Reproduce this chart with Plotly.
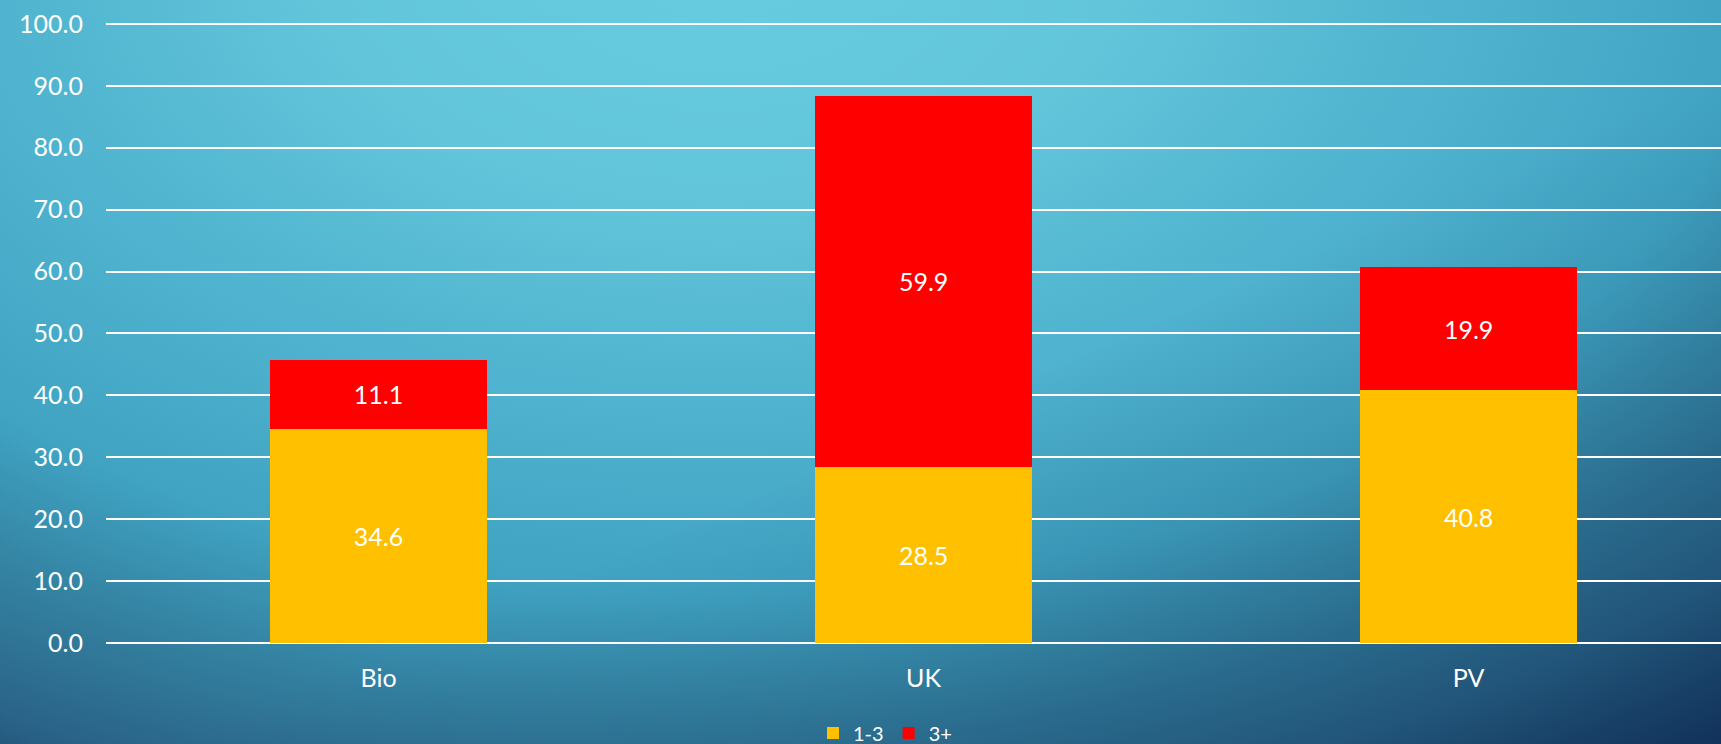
import base64
import plotly.graph_objects as go

categories = ["Bio", "UK", "PV"]
series_names = ["1-3", "3+"]
values_1_3 = [34.6, 28.5, 40.8]
values_3_plus = [11.1, 59.9, 19.9]
y_ticks = [0, 10, 20, 30, 40, 50, 60, 70, 80, 90, 100]

W, H = 1721, 744
ML, MR, MT, MB = 106, 0, 22, 101
PW, PH = W - ML - MR, H - MT - MB

svg = f'''<svg xmlns="http://www.w3.org/2000/svg" width="{W}" height="{H}" viewBox="0 0 {W} {H}" preserveAspectRatio="none">
<defs>
<radialGradient id="g" gradientUnits="userSpaceOnUse" cx="0" cy="0" r="1000" fx="0" fy="0" gradientTransform="translate(720,-50) scale(1.63,1)">
<stop offset="0" stop-color="#68cde0"/>
<stop offset="0.25" stop-color="#62c5da"/>
<stop offset="0.45" stop-color="#50b3cf"/>
<stop offset="0.64" stop-color="#40a3c2"/>
<stop offset="0.77" stop-color="#337f9f"/>
<stop offset="0.88" stop-color="#2a6488"/>
<stop offset="1" stop-color="#163760"/>
</radialGradient>
<linearGradient id="d" x1="0" y1="0" x2="1" y2="1">
<stop offset="0.55" stop-color="#0a2a50" stop-opacity="0"/>
<stop offset="1" stop-color="#0a2a50" stop-opacity="0.35"/>
</linearGradient>
</defs>
<rect x="0" y="0" width="{W}" height="{H}" fill="url(#g)"/>
<rect x="0" y="0" width="{W}" height="{H}" fill="url(#d)"/>
</svg>'''
src = "data:image/svg+xml;base64," + base64.b64encode(svg.encode()).decode()

FONT = "Lato"

fig = go.Figure()
fig.add_trace(go.Bar(
    x=categories, y=values_1_3, name=series_names[0],
    marker=dict(color="#FFC000", line=dict(width=0)),
    text=[f"{v:.1f}" for v in values_1_3], textposition="inside",
    insidetextanchor="middle", textfont=dict(color="white", size=25, family=FONT),
))
fig.add_trace(go.Bar(
    x=categories, y=values_3_plus, name=series_names[1],
    marker=dict(color="#FF0000", line=dict(width=0)),
    text=[f"{v:.1f}" for v in values_3_plus], textposition="inside",
    insidetextanchor="middle", textfont=dict(color="white", size=25, family=FONT),
))

fig.update_layout(
    width=W, height=H,
    barmode="stack", bargap=0.602,
    margin=dict(l=ML, r=MR, t=MT, b=MB, pad=0, autoexpand=False),
    paper_bgcolor="rgba(0,0,0,0)", plot_bgcolor="rgba(0,0,0,0)",
    font=dict(family=FONT, color="white", size=24),
    showlegend=True,
    legend=dict(orientation="h", xref="paper", yref="paper",
                x=(885 - ML) / PW, y=-(733 - (H - MB)) / PH,
                xanchor="center", yanchor="middle",
                font=dict(size=20, color="white"), traceorder="normal",
                itemwidth=30, bgcolor="rgba(0,0,0,0)"),
    images=[dict(source=src, xref="paper", yref="paper",
                 x=-ML / PW, y=1 + MT / PH, sizex=W / PW, sizey=H / PH,
                 xanchor="left", yanchor="top", sizing="stretch", layer="below")],
)
fig.update_yaxes(range=[0, 100.3], tickvals=y_ticks, tickformat=".1f",
                 showgrid=True, gridcolor="white", gridwidth=2,
                 zeroline=True, zerolinecolor="white", zerolinewidth=2,
                 showline=False, ticks="", ticklabelstandoff=22, automargin=False,
                 tickfont=dict(size=25, color="white", family=FONT))
fig.update_xaxes(range=[-0.5, 2.463], showgrid=False, showline=False, ticks="",
                 ticklabelstandoff=18, automargin=False,
                 tickfont=dict(size=25, color="white", family=FONT))

fig.write_html("out.html")
